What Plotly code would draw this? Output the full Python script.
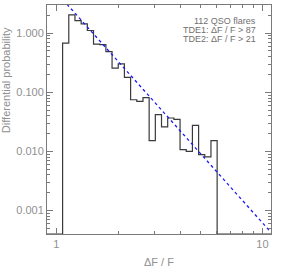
import math
import plotly.graph_objects as go

# bin left/right edges (Delta F / F), log-spaced
bin_edges = [1.0715, 1.1482, 1.2303, 1.3183, 1.4125, 1.5136, 1.6218, 1.7378,
             1.8621, 1.9953, 2.1380, 2.2909, 2.4547, 2.6303, 2.8184, 3.0200,
             3.2359, 3.4674, 3.7154, 3.9811, 4.2658, 4.5709, 4.8978, 5.2481,
             5.6234, 6.0256]
# differential probability in each bin
prob = [0.678, 2.04, 1.63, 1.44, 1.11, 0.652, 0.64, 0.489, 0.256, 0.303,
        0.179, 0.0748, 0.070, 0.0815, 0.0152, 0.0418, 0.0259, 0.0367, 0.0348,
        0.0107, 0.0100, 0.0275, 0.0088, 0.0081, 0.0152]

x_range = [0.9, 11.0]
y_range = [4e-4, 3.0]

# power-law fit (dashed blue)
fit_amp = 4.9
fit_index = -3.9

y_tickvals = [0.001, 0.01, 0.1, 1.0]
y_ticktext = ["0.001", "0.010", "0.100", "1.000"]
x_tickvals = [1, 10]
x_ticktext = ["1", "10"]

legend_lines = ["112 QSO flares", "TDE1: ΔF / F > 87", "TDE2: ΔF / F > 21"]

# step histogram: zero bins drawn on the lower axis
hx = [x_range[0]] + bin_edges + [x_range[1]]
hy = [y_range[0]] + prob + [y_range[0], y_range[0]]

fig = go.Figure()
fig.add_trace(go.Scatter(x=hx, y=hy, mode="lines", line_shape="hv",
                         line=dict(color="#3a3a3a", width=1.2),
                         showlegend=False, hoverinfo="skip", cliponaxis=False))
fx = x_range
fy = [fit_amp * v ** fit_index for v in fx]
fig.add_trace(go.Scatter(x=fx, y=fy, mode="lines",
                         line=dict(color="#1a1aff", width=1.3, dash="3px,3px"),
                         showlegend=False, hoverinfo="skip"))

axcol = "#7a7a7a"
font = dict(family="Liberation Sans, Arial, sans-serif", size=11, color="#909090")

fig.update_xaxes(type="log", range=[math.log10(v) for v in x_range],
                 tickvals=x_tickvals, ticktext=x_ticktext,
                 ticks="inside", ticklen=6, tickcolor=axcol, mirror="allticks",
                 showline=True, linecolor=axcol, linewidth=1, showgrid=False,
                 zeroline=False, tickfont=font,
                 minor=dict(ticks="inside", ticklen=3, tickcolor=axcol, dtick="D1",
                            showgrid=False))
fig.update_yaxes(type="log", range=[math.log10(v) for v in y_range],
                 tickvals=y_tickvals, ticktext=y_ticktext,
                 ticks="inside", ticklen=6, tickcolor=axcol, mirror="allticks",
                 showline=True, linecolor=axcol, linewidth=1, showgrid=False,
                 zeroline=False, tickfont=font,
                 minor=dict(ticks="inside", ticklen=3, tickcolor=axcol, dtick="D1",
                            showgrid=False))

# axis titles
fig.add_annotation(text="Differential probability", textangle=-90,
                   xref="paper", yref="paper", x=-0.185, y=0.67,
                   xanchor="center", yanchor="middle", showarrow=False,
                   font=font)
fig.add_annotation(text="ΔF / F", xref="paper", yref="paper", x=0.5, y=-0.122,
                   xanchor="center", yanchor="middle", showarrow=False, font=font)

# legend text, one annotation per line
for i, line in enumerate(legend_lines):
    fig.add_annotation(text=line, xref="paper", yref="paper",
                       x=0.94, y=(234 - 21 - 9 * i) / 229.0,
                       xanchor="right", yanchor="middle", align="right",
                       showarrow=False,
                       font=dict(family="Liberation Sans, Arial, sans-serif", size=9,
                                 color="#707070"))

fig.update_layout(width=299, height=273, margin=dict(l=47, r=28, t=5, b=39),
                  paper_bgcolor="white", plot_bgcolor="white", showlegend=False)

fig.write_html("out.html", config={"displayModeBar": False},
               post_script="document.body.style.margin='0';"
                           "document.body.style.overflow='hidden';")
